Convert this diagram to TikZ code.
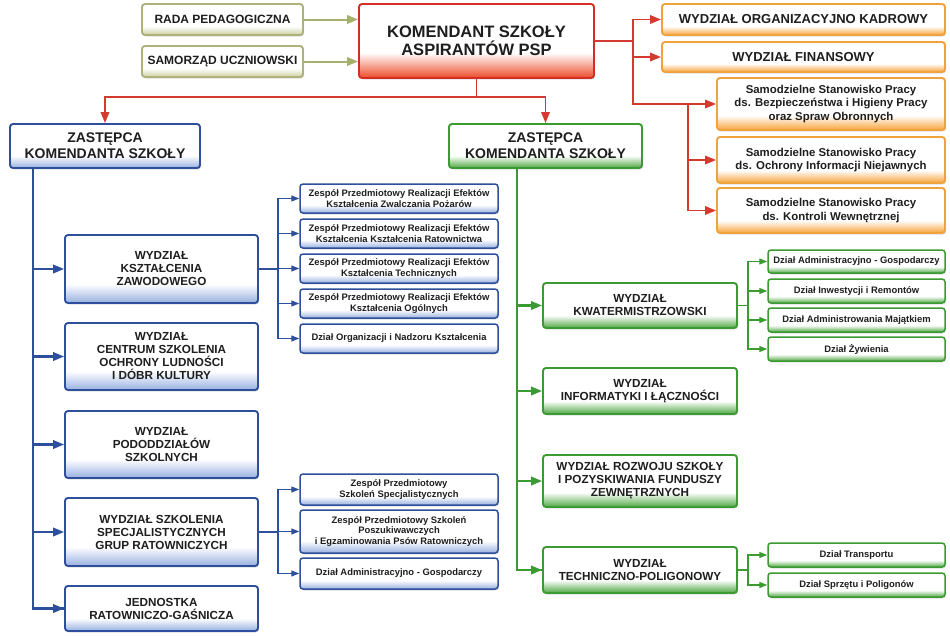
\documentclass[tikz,border=0pt]{standalone}
\usepackage{fontspec}
\setmainfont{Liberation Sans}
\usetikzlibrary{arrows.meta,shadows}
\definecolor{txt}{HTML}{1E1E1E}
\definecolor{redD}{HTML}{D42E24}
\definecolor{redF}{HTML}{EE4A2A}
\definecolor{orD}{HTML}{F0A23C}
\definecolor{orF}{HTML}{F7A33A}
\definecolor{blD}{HTML}{2E4F9B}
\definecolor{blF}{HTML}{97B0E0}
\definecolor{grD}{HTML}{3C9A32}
\definecolor{grF}{HTML}{4FA843}
\definecolor{olD}{HTML}{AEB27A}
\definecolor{olF}{HTML}{CDD0A0}
\definecolor{redL}{HTML}{D43A2E}
\definecolor{olL}{HTML}{A3B06E}
\pgfdeclareverticalshading{redsh}{100bp}{color(0bp)=(redF); color(25bp)=(redF); color(42bp)=(white); color(100bp)=(white)}
\pgfdeclareverticalshading{orsh}{100bp}{color(0bp)=(orF); color(25bp)=(orF); color(39bp)=(white); color(100bp)=(white)}
\pgfdeclareverticalshading{blsh}{100bp}{color(0bp)=(blF); color(25bp)=(blF); color(39bp)=(white); color(100bp)=(white)}
\pgfdeclareverticalshading{grsh}{100bp}{color(0bp)=(grF); color(25bp)=(grF); color(39bp)=(white); color(100bp)=(white)}
\pgfdeclareverticalshading{olsh}{100bp}{color(0bp)=(olF); color(25bp)=(olF); color(39bp)=(white); color(100bp)=(white)}
\tikzset{
  box/.style={rounded corners=3pt, line width=1.9pt, inner sep=1pt, align=center, text=txt,
    drop shadow={opacity=0.25, shadow xshift=1pt, shadow yshift=-1.5pt}},
  smallbox/.style={box, line width=1.5pt},
  redbox/.style={box, draw=redD, shade, shading=redsh},
  orbox/.style={box, draw=orD, shade, shading=orsh},
  blbox/.style={box, draw=blD, shade, shading=blsh},
  grbox/.style={box, draw=grD, shade, shading=grsh},
  olbox/.style={box, draw=olD, shade, shading=olsh},
  blsmall/.style={smallbox, draw=blD, shade, shading=blsh},
  grsmall/.style={smallbox, draw=grD, shade, shading=grsh},
  fkom/.style={font=\fontsize{16.5}{18}\selectfont\bfseries},
  fzast/.style={font=\fontsize{14}{16}\selectfont\bfseries},
  fwyd/.style={font=\fontsize{11.7}{13}\selectfont\bfseries},
  ftop/.style={font=\fontsize{12}{14}\selectfont\bfseries},
  forg/.style={font=\fontsize{13}{15}\selectfont\bfseries},
  fsam/.style={font=\fontsize{11.4}{13.3}\selectfont\bfseries},
  fsub/.style={font=\fontsize{9.4}{10.6}\selectfont\bfseries},
  mainarrow/.style={-{Triangle[length=11pt,width=8.5pt]}},
  subarrow/.style={-{Triangle[length=8pt,width=6pt]}},
  redline/.style={draw=redL, line width=1.8pt},
  olline/.style={draw=olL, line width=2pt},
  blline/.style={draw=blD, line width=2.1pt},
  grline/.style={draw=grD, line width=2.1pt},
  blthin/.style={draw=blD, line width=1.1pt},
  grthin/.style={draw=grD, line width=1.1pt},
}
\begin{document}
\begin{tikzpicture}[x=1pt,y=-1pt]
\useasboundingbox[fill=white] (0,0) rectangle (950,635);

% top level
\node[olbox, ftop, minimum width=161pt, minimum height=31pt] (rada) at (222.5,19.5) {RADA PEDAGOGICZNA};
\node[olbox, ftop, minimum width=161pt, minimum height=31pt] (sam) at (222.5,61.5) {SAMORZĄD UCZNIOWSKI};
\node[redbox, fkom, minimum width=235pt, minimum height=74pt] (kom) at (476.5,41) {KOMENDANT SZKOŁY\\ASPIRANTÓW PSP};

\node[orbox, forg, minimum width=283pt, minimum height=31pt] (org) at (803.5,19.5) {WYDZIAŁ ORGANIZACYJNO KADROWY};
\node[orbox, forg, minimum width=283pt, minimum height=30pt] (fin) at (803.5,57) {WYDZIAŁ FINANSOWY};
\node[orbox, fsam, minimum width=228pt, minimum height=52pt] (s1) at (831,104) {Samodzielne Stanowisko Pracy\\ds. Bezpieczeństwa i Higieny Pracy\\oraz Spraw Obronnych};
\node[orbox, fsam, minimum width=228pt, minimum height=46pt] (s2) at (831,160) {Samodzielne Stanowisko Pracy\\ds. Ochrony Informacji Niejawnych};
\node[orbox, fsam, minimum width=228pt, minimum height=45pt] (s3) at (831,210.5) {Samodzielne Stanowisko Pracy\\ds. Kontroli Wewnętrznej};

\node[blbox, fzast, minimum width=190pt, minimum height=44pt] (zl) at (105,146) {ZASTĘPCA\\KOMENDANTA SZKOŁY};
\node[grbox, fzast, minimum width=193pt, minimum height=44pt] (zr) at (545.5,146) {ZASTĘPCA\\KOMENDANTA SZKOŁY};

% left column
\node[blbox, fwyd, minimum width=193pt, minimum height=68pt] (k1) at (161.5,269) {WYDZIAŁ\\KSZTAŁCENIA\\ZAWODOWEGO};
\node[blbox, fwyd, minimum width=193pt, minimum height=67pt] (k2) at (161.5,356.5) {WYDZIAŁ\\CENTRUM SZKOLENIA\\OCHRONY LUDNOŚCI\\I DÓBR KULTURY};
\node[blbox, fwyd, minimum width=193pt, minimum height=67pt] (k3) at (161.5,444.5) {WYDZIAŁ\\PODODDZIAŁÓW\\SZKOLNYCH};
\node[blbox, fwyd, minimum width=193pt, minimum height=68pt] (k4) at (161.5,532) {WYDZIAŁ SZKOLENIA\\SPECJALISTYCZNYCH\\GRUP RATOWNICZYCH};
\node[blbox, fwyd, minimum width=193pt, minimum height=45pt] (k5) at (161.5,608.5) {JEDNOSTKA\\RATOWNICZO-GAŚNICZA};

% middle subgroups
\node[blsmall, fsub, minimum width=198pt, minimum height=29pt] (z1) at (399,198.5) {Zespół Przedmiotowy Realizacji Efektów\\Kształcenia Zwalczania Pożarów};
\node[blsmall, fsub, minimum width=198pt, minimum height=29pt] (z2) at (399,233.5) {Zespół Przedmiotowy Realizacji Efektów\\Kształcenia Kształcenia Ratownictwa};
\node[blsmall, fsub, minimum width=198pt, minimum height=29pt] (z3) at (399,268.5) {Zespół Przedmiotowy Realizacji Efektów\\Kształcenia Technicznych};
\node[blsmall, fsub, minimum width=198pt, minimum height=29pt] (z4) at (399,303.5) {Zespół Przedmiotowy Realizacji Efektów\\Kształcenia Ogólnych};
\node[blsmall, fsub, minimum width=198pt, minimum height=29pt] (z5) at (399,338.5) {Dział Organizacji i Nadzoru Kształcenia};

\node[blsmall, fsub, minimum width=198pt, minimum height=31pt] (p1) at (399,489.5) {Zespół Przedmiotowy\\Szkoleń Specjalistycznych};
\node[blsmall, fsub, minimum width=198pt, minimum height=43pt] (p2) at (399,531.5) {Zespół Przedmiotowy Szkoleń\\Poszukiwawczych\\i Egzaminowania Psów Ratowniczych};
\node[blsmall, fsub, minimum width=198pt, minimum height=31pt] (p3) at (399,573.5) {Dział Administracyjno - Gospodarczy};

% right column
\node[grbox, fwyd, minimum width=194pt, minimum height=45pt] (g1) at (640,305.5) {WYDZIAŁ\\KWATERMISTRZOWSKI};
\node[grbox, fwyd, minimum width=194pt, minimum height=46pt] (g2) at (640,391) {WYDZIAŁ\\INFORMATYKI I ŁĄCZNOŚCI};
\node[grbox, fwyd, minimum width=194pt, minimum height=52pt] (g3) at (640,481) {WYDZIAŁ ROZWOJU SZKOŁY\\I POZYSKIWANIA FUNDUSZY\\ZEWNĘTRZNYCH};
\node[grbox, fwyd, minimum width=194pt, minimum height=46pt] (g4) at (640,570) {WYDZIAŁ\\TECHNICZNO-POLIGONOWY};

\node[grsmall, fsub, minimum width=177pt, minimum height=23pt] (q1) at (856.5,261.5) {Dział Administracyjno - Gospodarczy};
\node[grsmall, fsub, minimum width=177pt, minimum height=24pt] (q2) at (856.5,291) {Dział Inwestycji i Remontów};
\node[grsmall, fsub, minimum width=177pt, minimum height=24pt] (q3) at (856.5,320) {Dział Administrowania Majątkiem};
\node[grsmall, fsub, minimum width=177pt, minimum height=24pt] (q4) at (856.5,349) {Dział Żywienia};
\node[grsmall, fsub, minimum width=177pt, minimum height=24pt] (t1) at (856.5,555) {Dział Transportu};
\node[grsmall, fsub, minimum width=177pt, minimum height=24pt] (t2) at (856.5,585) {Dział Sprzętu i Poligonów};

% connectors: top left
\draw[olline, mainarrow] (rada.east) -- (rada.east -| kom.west);
\draw[olline, mainarrow] (sam.east) -- (sam.east -| kom.west);

% red down
\coordinate (kj) at (476.5,97);
\draw[redline] (kom.south) -- (kj);
\draw[redline, mainarrow] (kj) -| (zl.north);
\draw[redline, mainarrow] (kj) -| (zr.north);

% red right
\coordinate (rj) at (633,41);
\coordinate (sj) at (688,104);
\draw[redline] (kom.east) -- (rj);
\draw[redline, mainarrow] (rj) |- (org.west);
\draw[redline, mainarrow] (rj) |- (fin.west);
\draw[redline, mainarrow] (rj) |- (s1.west);
\draw[redline, mainarrow] (sj) |- (s2.west);
\draw[redline, mainarrow] (sj) |- (s3.west);

% blue trunk
\coordinate (bt) at (33,168);
\draw[blline] (bt) |- (k5.west);
\draw[blline, mainarrow] (bt |- k5.west) -- (k5.west);
\foreach \n in {k1,k2,k3,k4} \draw[blline, mainarrow] (bt |- \n.west) -- (\n.west);

% green trunk
\coordinate (gt) at (517,168);
\draw[grline] (gt) |- (g4.west);
\draw[grline, mainarrow] (gt |- g4.west) -- (g4.west);
\foreach \n in {g1,g2,g3} \draw[grline, mainarrow] (gt |- \n.west) -- (\n.west);

% middle subgroup 1
\coordinate (m1) at (278,269);
\draw[blthin] (k1.east) -- (m1);
\foreach \n in {z1,z2,z3,z4,z5} \draw[blthin, subarrow] (m1) |- (\n.west);
% middle subgroup 2
\coordinate (m2) at (278,532);
\draw[blthin] (k4.east) -- (m2);
\foreach \n in {p1,p2,p3} \draw[blthin, subarrow] (m2) |- (\n.west);

% green subgroups
\coordinate (n1) at (748,305.5);
\draw[grthin] (g1.east) -- (n1);
\foreach \n in {q1,q2,q3,q4} \draw[grthin, subarrow] (n1) |- (\n.west);
\coordinate (n2) at (748,570);
\draw[grthin] (g4.east) -- (n2);
\foreach \n in {t1,t2} \draw[grthin, subarrow] (n2) |- (\n.west);
\end{tikzpicture}
\end{document}
